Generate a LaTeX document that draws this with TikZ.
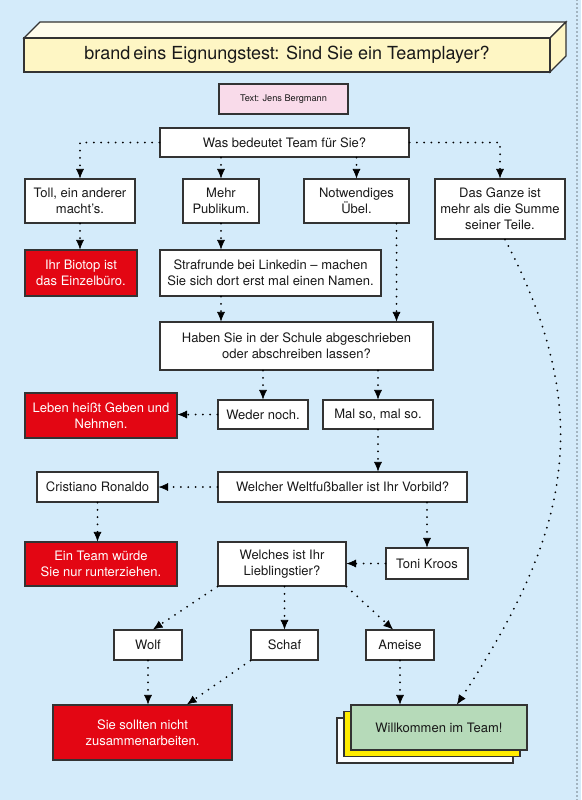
\documentclass[tikz,border=0pt]{standalone}
\usepackage{fontspec}
\setmainfont{TeX Gyre Heros}
\usetikzlibrary{arrows.meta}
\definecolor{bgblue}{HTML}{D4EBFA}
\definecolor{titleyellow}{HTML}{FEF6C4}
\definecolor{titletop}{HTML}{FEFCEC}
\definecolor{creditpink}{HTML}{F9DBEA}
\definecolor{brandred}{HTML}{E30613}
\definecolor{teamgreen}{HTML}{B6DAB9}
\definecolor{cardyellow}{HTML}{FFEC00}
\definecolor{boxline}{HTML}{333333}
\tikzset{
    box/.style={
        draw=boxline,
        line width=1.1pt,
        fill=white,
        text=black!90,
        align=center,
        inner sep=0pt,
        font=\fontsize{13}{16}\selectfont},
    redbox/.style={
        box,
        fill=brandred,
        text=white},
    link/.style={
        draw,
        line width=2pt,
        dash pattern=on 0pt off 7.3pt,
        line cap=round,
        -{Latex[length=9.5pt,width=8pt,line width=0.6pt]}},
    every edge/.style={link}}

\begin{document}
\begin{tikzpicture}[x=1pt,y=-1pt]
        \useasboundingbox (0,0) rectangle (581,800);
        \fill[bgblue] (0,0) rectangle (581,800);
        \draw[line width=1.3pt,dash pattern=on 0pt off 4pt,line cap=round] (577,0) -- (577,800);

        % title bar
        \filldraw[fill=titletop,draw=boxline,line width=1.1pt] (24,38) -- (40,22) -- (566,22) -- (550,38) -- cycle;
        \filldraw[fill=titleyellow,draw=boxline,line width=1.1pt] (550,38) -- (566,22) -- (566,56) -- (550,72) -- cycle;
        \node[box,fill=titleyellow,minimum width=526pt,minimum height=34pt,font=\fontsize{18}{20}\selectfont] (title) at (287,55) {brand\,eins Eignungstest: Sind Sie ein Teamplayer?};
        \node[box,fill=creditpink,minimum width=129pt,minimum height=30pt,font=\fontsize{9.2}{11}\selectfont] (credit) at (283.5,99) {Text: Jens Bergmann};

        \node[box,minimum width=249pt,minimum height=29pt] (q1) at (284.5,142.5) {Was bedeutet Team für Sie?};
        \node[box,minimum width=110pt,minimum height=44pt] (a1) at (80,201) {Toll, ein anderer\\macht’s.};
        \node[box,minimum width=76pt,minimum height=44pt] (a2) at (221,201) {Mehr\\Publikum.};
        \node[box,minimum width=105pt,minimum height=44pt] (a3) at (356.5,201) {Notwendiges\\Übel.};
        \node[box,minimum width=130pt,minimum height=60pt] (a4) at (500,209) {Das Ganze ist\\mehr als die Summe\\seiner Teile.};
        \node[redbox,minimum width=112pt,minimum height=46pt] (r1) at (81,273) {Ihr Biotop ist\\das Einzelbüro.};
        \node[box,minimum width=221pt,minimum height=46pt] (s1) at (270.5,273) {Strafrunde bei Linkedin – machen\\Sie sich dort erst mal einen Namen.};
        \node[box,minimum width=273pt,minimum height=48pt] (q2) at (296.5,346) {Haben Sie in der Schule abgeschrieben\\oder abschreiben lassen?};
        \node[redbox,minimum width=152pt,minimum height=45pt] (r2) at (101,415.5) {Leben heißt Geben und\\Nehmen.};
        \node[box,minimum width=90pt,minimum height=29pt] (w) at (263,414.5) {Weder noch.};
        \node[box,minimum width=110pt,minimum height=29pt] (m) at (378,414.5) {Mal so, mal so.};
        \node[box,minimum width=121pt,minimum height=30pt] (cr) at (97.5,487) {Cristiano Ronaldo};
        \node[box,minimum width=249pt,minimum height=30pt] (q3) at (342.5,487) {Welcher Weltfußballer ist Ihr Vorbild?};
        \node[redbox,minimum width=152pt,minimum height=44pt] (r3) at (101,564) {Ein Team würde\\Sie nur runterziehen.};
        \node[box,minimum width=128pt,minimum height=44pt] (q4) at (282,564) {Welches ist Ihr\\Lieblingstier?};
        \node[box,minimum width=82pt,minimum height=31pt] (tk) at (427,563.5) {Toni Kroos};
        \node[box,minimum width=68pt,minimum height=30pt] (wolf) at (148,645) {Wolf};
        \node[box,minimum width=67pt,minimum height=30pt] (schaf) at (284.5,645) {Schaf};
        \node[box,minimum width=68pt,minimum height=30pt] (ameise) at (400,645) {Ameise};
        \node[redbox,minimum width=179pt,minimum height=55pt] (r4) at (142.5,732.5) {Sie sollten nicht\\zusammenarbeiten.};

        % stacked cards
        \node[box,minimum width=176pt,minimum height=45pt] (cardback) at (425,740.5) {};
        \node[box,fill=cardyellow,minimum width=176pt,minimum height=45pt] (cardmid) at (432,734) {};
        \node[box,fill=teamgreen,minimum width=176pt,minimum height=45pt] (welcome) at (439,727.5) {Willkommen im Team!};

        % connectors
        \draw[link] (q1.west) -| (a1.north);
        \draw[link] (q1.east) -| (a4.north);
        \path (q1.south -| a2.north) edge (a2.north);
        \path (q1.south -| a3.north) edge (a3.north);
        \path (a1.south) edge (a1.south |- r1.north);
        \path (a2.south) edge (a2.south |- s1.north);
        \path (a2 |- s1.south) edge (a2 |- q2.north);
        \path ([xshift=40pt]a3.south) edge ([xshift=40pt]a3.south |- q2.north);
        \path (q2.south -| w.north) edge (w.north);
        \path (q2.south -| m.north) edge (m.north);
        \path (w.west) edge (w.west -| r2.east);
        \path (m.south) edge (m.south |- q3.north);
        \path (q3.west) edge (q3.west -| cr.east);
        \path (cr.south) edge (cr.south |- r3.north);
        \path (q3.south -| tk.north) edge (tk.north);
        \path (tk.west) edge (tk.west -| q4.east);
        \path (q4.south west) edge ([xshift=5pt]wolf.north);
        \path (q4.south -| schaf.north) edge (schaf.north);
        \path (q4.south east) edge ([xshift=-7pt]ameise.north);
        \path (wolf.south) edge (wolf.south |- r4.north);
        \path (schaf.south west) edge ([xshift=44.5pt]r4.north);
        \path (ameise.south) edge (ameise.south |- welcome.north);
        \draw[link] ([xshift=5pt]a4.south) .. controls (600,420) and (565,540) .. ([xshift=18pt]welcome.north);
    \end{tikzpicture}
\end{document}
